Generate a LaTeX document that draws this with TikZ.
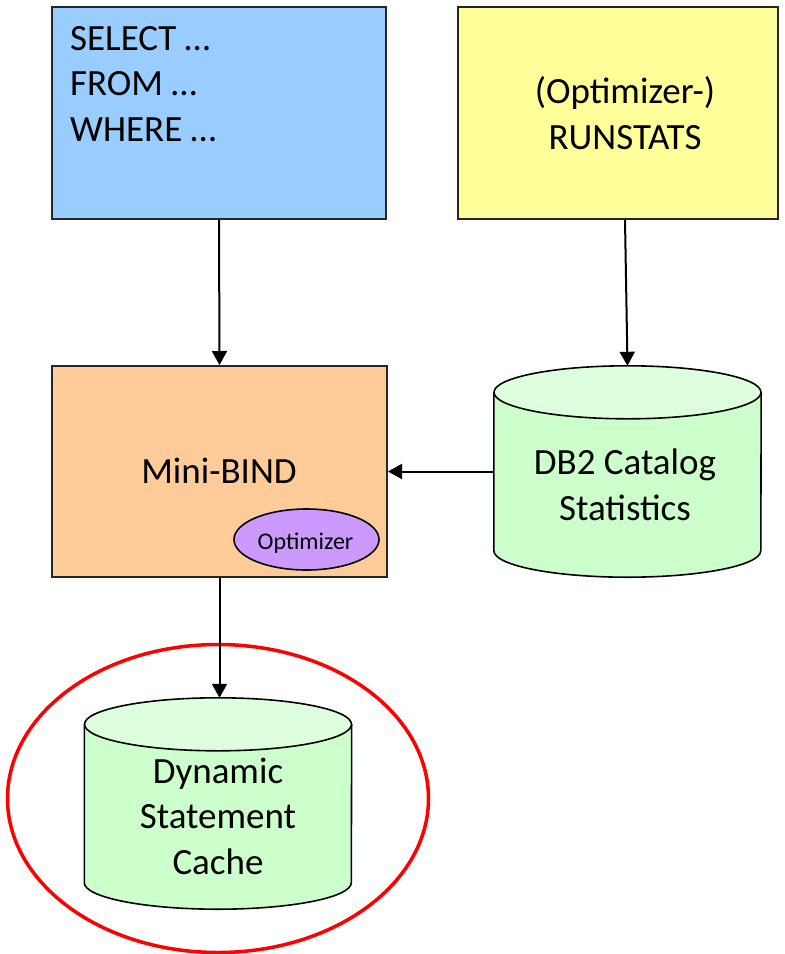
\documentclass[tikz,border=0pt]{standalone}
\usepackage{fontspec}
\setmainfont{Carlito}
\usetikzlibrary{arrows.meta,shapes.geometric}

\definecolor{sqlblue}{HTML}{99CCFF}
\definecolor{statyellow}{HTML}{FFFF99}
\definecolor{bindorange}{HTML}{FFCC99}
\definecolor{optpurple}{HTML}{CC99FF}
\definecolor{cylbody}{HTML}{CCFFCC}
\definecolor{cyltop}{HTML}{DDFFDD}
\definecolor{hilite}{HTML}{FF0000}

\tikzset{
  box/.style={draw=black!85, line width=2pt, minimum width=334pt, minimum height=212pt, inner sep=0pt},
  cylarea/.style={minimum width=267pt, minimum height=211pt, inner sep=0pt},
  lbl/.style={font=\fontsize{37}{45.5}\selectfont, inner sep=0pt, align=center},
  flow/.style={line width=2pt, -{Triangle[length=14pt 0, width=15pt 0]}},
  cylline/.style={draw=black, line width=1.6pt},
}

% cylinder drawn around the bounds of a named node
\newcommand{\drawdbcyl}[1]{%
  \fill[cylbody] ([yshift=-26.5pt]#1.north west) -- ([yshift=26.5pt]#1.south west)
    arc[start angle=180, end angle=360, x radius=133.5pt, y radius=26.5pt]
    -- ([yshift=-26.5pt]#1.north east) -- cycle;
  \draw[cylline] ([yshift=-26.5pt]#1.north west) -- ([yshift=26.5pt]#1.south west)
    arc[start angle=180, end angle=360, x radius=133.5pt, y radius=26.5pt]
    -- ([yshift=-26.5pt]#1.north east);
  \draw[cylline, fill=cyltop] ([yshift=-26.5pt]#1.north) ellipse[x radius=133.5pt, y radius=26.5pt];
}

\begin{document}
\begin{tikzpicture}[x=1pt, y=-1pt]
  \useasboundingbox (0,0) rectangle (785,954);

  % query box (text anchored on the baseline of its last line)
  \node[box, fill=sqlblue] (sql) at (219,113) {};
  \node[lbl, align=left, anchor=base west] (sqltext) at (70,141) {SELECT …\\FROM …\\WHERE …};

  % statistics collection
  \node[box, fill=statyellow, minimum width=320pt] (stats) at (618,113) {};
  \node[lbl, anchor=base] (statstext) at (625,149) {(Optimizer-)\\RUNSTATS};

  % mini bind with the optimizer inside
  \node[box, fill=bindorange, minimum width=335pt, minimum height=211pt] (bind) at (219.5,471.5) {};
  \node[lbl, anchor=base] (bindtext) at (219,483) {Mini-BIND};
  \node[draw=black, line width=1.6pt, fill=optpurple, ellipse, minimum width=145pt, minimum height=61pt, inner sep=0pt] (opt) at (306.5,539.5) {};
  \node[inner sep=0pt, font=\fontsize{24}{28}\selectfont, anchor=base] (opttext) at (305.5,549) {Optimizer};

  % catalog statistics cylinder
  \node[cylarea] (db2) at (627.5,471.5) {};
  \drawdbcyl{db2}
  \node[lbl, anchor=base] (db2text) at (625,520) {DB2 Catalog\\Statistics};

  % dynamic statement cache cylinder
  \node[cylarea] (dsc) at (218,803.5) {};
  \drawdbcyl{dsc}
  \node[lbl, anchor=base] (dsctext) at (218,874) {Dynamic\\Statement\\Cache};

  % highlight ring
  \draw[hilite, line width=3.5pt] (218,798.5) ellipse[x radius=210.5pt, y radius=154pt];

  % connectors
  \draw[flow] (sql.south) -- (bind.north);
  \draw[flow] ([xshift=7pt]stats.south) -- (db2.north);
  \draw[flow] (db2.west) -- (bind.east);
  \draw[flow] (bind.south) -- (bind.south |- dsc.north);
\end{tikzpicture}
\end{document}
